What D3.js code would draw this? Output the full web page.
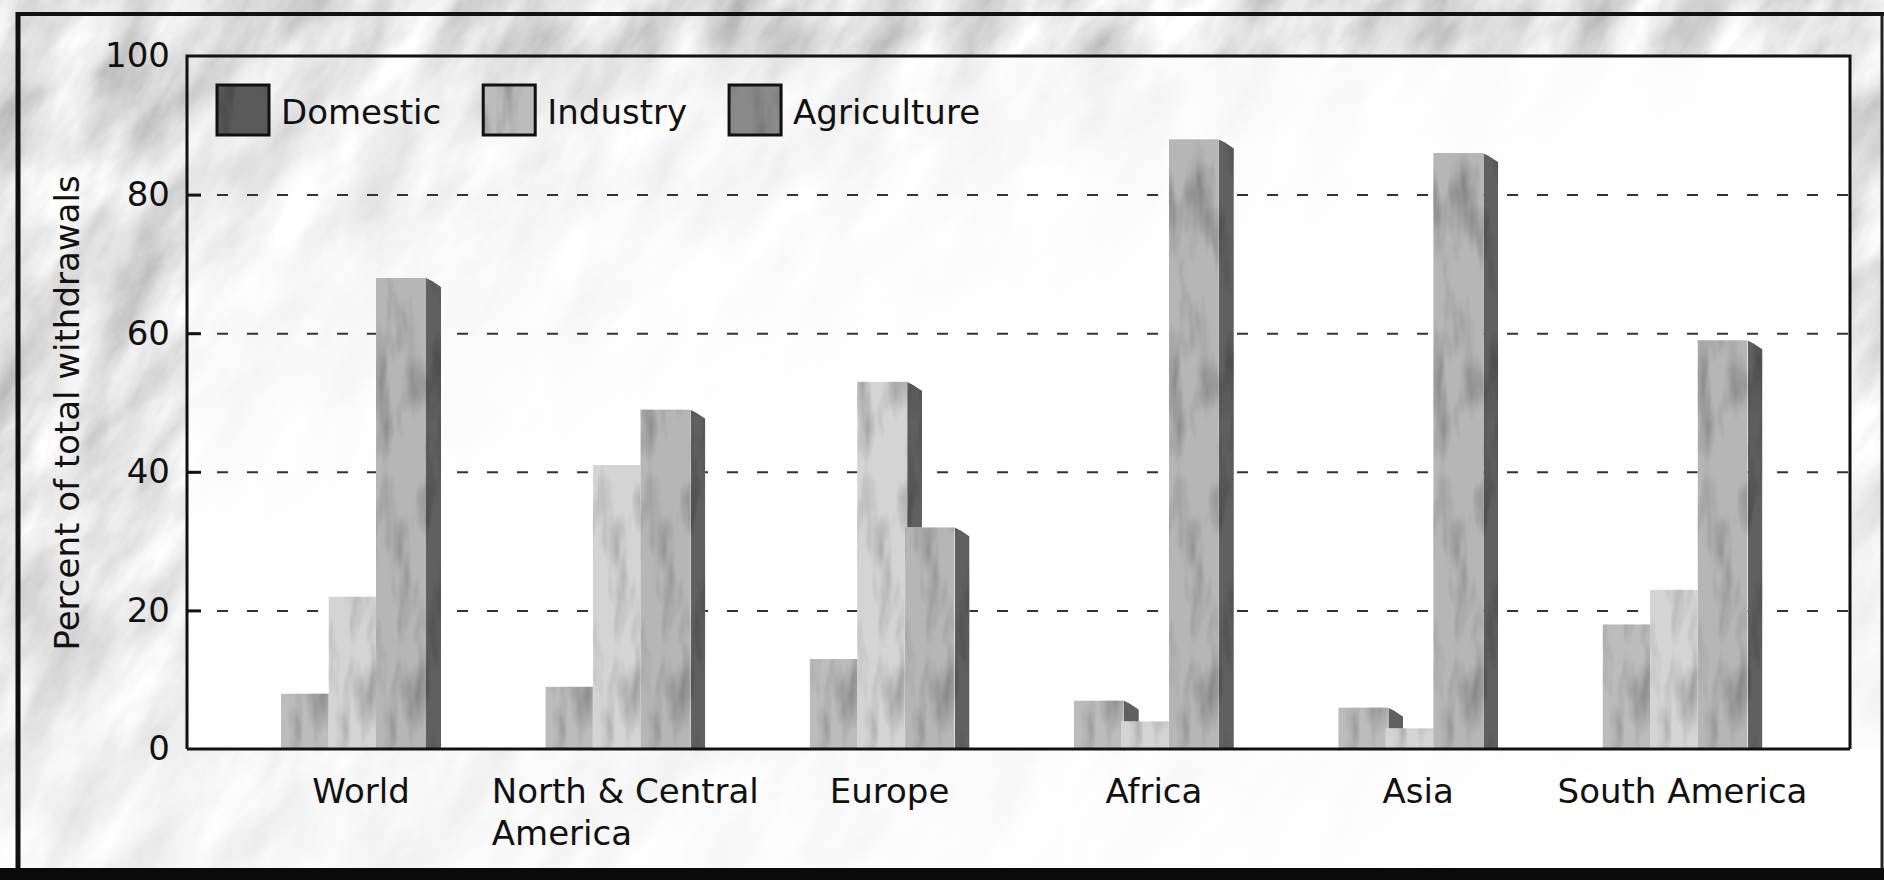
<!DOCTYPE html>
<html>
<head>
<meta charset="utf-8">
<script src="https://cdn.jsdelivr.net/npm/d3@7"></script>
<style>
  body { margin: 0; background: #fff; }
  svg { display: block; font-family: "DejaVu Sans", sans-serif; }
</style>
</head>
<body>
<div id="chart"></div>
<script>
// data
var regions = ["World", "North & Central America", "Europe", "Africa", "Asia", "South America"];
var regionLines = [["World"], ["North & Central", "America"], ["Europe"], ["Africa"], ["Asia"], ["South America"]];
var series = ["Domestic", "Industry", "Agriculture"];
var domestic = [8, 9, 13, 7, 6, 18];
var industry = [22, 41, 53, 4, 3, 23];
var agriculture = [68, 49, 32, 88, 86, 59];
var yTicks = [0, 20, 40, 60, 80, 100];
var gridTicks = [20, 40, 60, 80];

function drawChart(){
  var values = { Domestic: domestic, Industry: industry, Agriculture: agriculture };
  var faceColor = { Domestic: "#bcbcbc", Industry: "#d4d4d4", Agriculture: "#b6b6b6" };
  var keyColor = { Domestic: "#5a5a5a", Industry: "#bcbcbc", Agriculture: "#8a8a8a" };

  var w = 1884, h = 880,
    pLeft = 187, pTop = 56, pRight = 1850, pBottom = 749,
    faceW = 50, sideW = 15;

  var svg = d3.select("#chart").append("svg")
    .attr("width", w)
    .attr("height", h);

  var defs = svg.append("defs");

  // paper texture
  var paper = defs.append("filter").attr("id", "paper")
    .attr("filterUnits", "userSpaceOnUse")
    .attr("x", -500).attr("y", -800).attr("width", 2900).attr("height", 2500);
  paper.append("feTurbulence")
    .attr("type", "fractalNoise")
    .attr("baseFrequency", "0.008 0.02")
    .attr("numOctaves", 5)
    .attr("seed", 7);
  paper.append("feColorMatrix")
    .attr("type", "matrix")
    .attr("values", "0.85 0 0 0 0.34  0.85 0 0 0 0.34  0.85 0 0 0 0.34  0 0 0 0 1");

  // bar texture
  var bt = defs.append("filter").attr("id", "barTex");
  bt.append("feTurbulence")
    .attr("type", "fractalNoise")
    .attr("baseFrequency", "0.05 0.012")
    .attr("numOctaves", 3)
    .attr("seed", 2)
    .attr("result", "n");
  bt.append("feColorMatrix")
    .attr("in", "n")
    .attr("type", "matrix")
    .attr("values", "1.2 0 0 0 0.35  1.2 0 0 0 0.35  1.2 0 0 0 0.35  0 0 0 0 1")
    .attr("result", "g");
  bt.append("feBlend")
    .attr("in", "SourceGraphic").attr("in2", "g")
    .attr("mode", "multiply").attr("result", "b");
  bt.append("feComposite")
    .attr("in", "b").attr("in2", "SourceGraphic")
    .attr("operator", "in");

  // where the paper texture shows
  var bgGrad = defs.append("linearGradient").attr("id", "bgGrad")
    .attr("x1", 0).attr("y1", 0).attr("x2", 0.8).attr("y2", 1);
  [[0, 1], [0.3, 0.9], [0.55, 0.45], [0.8, 0.12], [1, 0]].forEach(function(s){
    bgGrad.append("stop").attr("offset", s[0]).attr("stop-color", "#fff").attr("stop-opacity", s[1]);
  });
  var leftGrad = defs.append("linearGradient").attr("id", "leftGrad")
    .attr("x1", 0).attr("y1", 0).attr("x2", 0).attr("y2", 1);
  [[0, 0.95], [0.6, 0.7], [1, 0.05]].forEach(function(s){
    leftGrad.append("stop").attr("offset", s[0]).attr("stop-color", "#fff").attr("stop-opacity", s[1]);
  });
  var mask = defs.append("mask").attr("id", "bgMask")
    .attr("maskUnits", "userSpaceOnUse")
    .attr("x", 0).attr("y", 0).attr("width", w).attr("height", h);
  mask.append("rect").attr("width", w).attr("height", h).attr("fill", "url(#bgGrad)");
  mask.append("rect").attr("width", w).attr("height", pTop).attr("fill", "#fff").attr("fill-opacity", 0.85);
  mask.append("rect").attr("width", pLeft).attr("height", pBottom).attr("fill", "url(#leftGrad)");
  mask.append("rect").attr("x", pRight).attr("width", w - pRight).attr("height", pBottom)
    .attr("fill", "url(#leftGrad)");

  // white of the plot, letting the texture through at top left
  var plotFade = defs.append("linearGradient").attr("id", "plotFade")
    .attr("x1", 0).attr("y1", 0).attr("x2", 0.5).attr("y2", 0.75);
  [[0, 0.1], [0.35, 0.7], [0.7, 1]].forEach(function(s){
    plotFade.append("stop").attr("offset", s[0]).attr("stop-color", "#fff").attr("stop-opacity", s[1]);
  });

  svg.append("rect").attr("width", w).attr("height", h).attr("fill", "#fff");

  svg.append("g")
    .attr("mask", "url(#bgMask)")
  .append("g")
    .attr("transform", "rotate(-58," + w/2 + "," + h/2 + ")")
  .append("rect")
    .attr("x", -500).attr("y", -800)
    .attr("width", 2900).attr("height", 2500)
    .attr("filter", "url(#paper)");

  svg.append("rect")
    .attr("x", pLeft).attr("y", pTop)
    .attr("width", pRight - pLeft).attr("height", pBottom - pTop)
    .attr("fill", "url(#plotFade)");

  // scales
  var y = d3.scaleLinear().domain([0, 100]).range([pBottom, pTop]);
  var x0 = d3.scaleBand().domain(regions).range([281, 281 + 6 * 264.3]);
  var x1 = d3.scalePoint().domain(series).range([0, 95]);

  // dashed grid
  svg.append("g")
    .attr("transform", "translate(" + pLeft + ",0)")
    .call(d3.axisLeft(y).tickValues(gridTicks).tickSize(-(pRight - pLeft)).tickFormat(""))
    .call(function(g){ g.select(".domain").remove(); })
    .selectAll("line")
      .attr("stroke", "#333")
      .attr("stroke-width", 2)
      .attr("stroke-dasharray", "11,19");

  svg.append("g")
    .attr("transform", "translate(" + pLeft + ",0)")
    .call(d3.axisLeft(y).tickValues(gridTicks).tickSize(-14).tickFormat(""))
    .call(function(g){ g.select(".domain").remove(); })
    .selectAll("line")
      .attr("stroke", "#111")
      .attr("stroke-width", 3);

  // bars
  var groups = svg.selectAll(".region")
    .data(regions)
    .enter().append("g")
      .attr("class", "region")
      .attr("transform", function(d){ return "translate(" + x0(d) + ",0)"; });

  series.forEach(function(s){
    var bar = groups.append("g")
      .attr("transform", "translate(" + x1(s) + ",0)");

    bar.append("path")
      .attr("d", function(d, i){
        var yt = y(values[s][i]);
        return "M" + faceW + "," + yt +
          "L" + (faceW + 6) + "," + (yt + 3) +
          "L" + (faceW + sideW) + "," + (yt + 9) +
          "L" + (faceW + sideW) + "," + pBottom +
          "L" + faceW + "," + pBottom + "Z";
      })
      .attr("fill", "#606060")
      .attr("filter", "url(#barTex)");

    bar.append("rect")
      .attr("x", 0)
      .attr("y", function(d, i){ return y(values[s][i]); })
      .attr("width", faceW)
      .attr("height", function(d, i){ return pBottom - y(values[s][i]); })
      .attr("fill", faceColor[s])
      .attr("filter", "url(#barTex)");
  });

  // plot frame
  svg.append("path")
    .attr("d", "M" + pLeft + "," + pBottom + "V" + pTop + "H" + pRight + "V" + pBottom)
    .attr("fill", "none")
    .attr("stroke", "#111")
    .attr("stroke-width", 3);
  svg.append("line")
    .attr("x1", pLeft).attr("x2", pRight)
    .attr("y1", pBottom).attr("y2", pBottom)
    .attr("stroke", "#111")
    .attr("stroke-width", 3);

  // y tick labels
  svg.append("g")
    .attr("transform", "translate(" + pLeft + ",0)")
    .call(d3.axisLeft(y).tickValues(yTicks).tickSize(0).tickPadding(17))
    .call(function(g){ g.select(".domain").remove(); })
    .selectAll("text")
      .attr("font-family", "DejaVu Sans, sans-serif")
      .attr("font-size", 34)
      .attr("fill", "#111");

  svg.append("text")
    .attr("transform", "translate(" + 79 + "," + 413 + ") rotate(-90)")
    .attr("text-anchor", "middle")
    .attr("font-size", 34)
    .attr("fill", "#111")
    .text("Percent of total withdrawals");

  // region labels, second line flush left with the first
  regions.forEach(function(r, i){
    var cx = x0(r) + (95 + faceW + sideW) / 2;
    var t = svg.append("text")
      .attr("font-size", 34)
      .attr("fill", "#111");
    var first = t.append("tspan").attr("y", 803).text(regionLines[i][0]);
    var len = first.node().getComputedTextLength();
    var sx = cx - len / 2;
    first.attr("x", sx);
    regionLines[i].slice(1).forEach(function(line, k){
      t.append("tspan").attr("x", sx).attr("y", 803 + 42 * (k + 1)).text(line);
    });
  });

  // legend
  var lx = 217;
  series.forEach(function(s){
    svg.append("rect")
      .attr("x", lx).attr("y", 85)
      .attr("width", 52).attr("height", 50)
      .attr("fill", keyColor[s])
      .attr("filter", "url(#barTex)");
    svg.append("rect")
      .attr("x", lx).attr("y", 85)
      .attr("width", 52).attr("height", 50)
      .attr("fill", "none")
      .attr("stroke", "#111")
      .attr("stroke-width", 3);
    var t = svg.append("text")
      .attr("x", lx + 64).attr("y", 124)
      .attr("font-size", 34)
      .attr("fill", "#111")
      .text(s);
    lx += 64 + t.node().getComputedTextLength() + 42;
  });

  // page frame
  svg.append("line").attr("x1", 16).attr("x2", w).attr("y1", 14).attr("y2", 14)
    .attr("stroke", "#111").attr("stroke-width", 4);
  svg.append("line").attr("x1", 18).attr("x2", 18).attr("y1", 12).attr("y2", 868)
    .attr("stroke", "#111").attr("stroke-width", 5);
  svg.append("line").attr("x1", 1882).attr("x2", 1882).attr("y1", 14).attr("y2", 868)
    .attr("stroke", "#222").attr("stroke-width", 3);
  svg.append("rect").attr("x", 0).attr("y", 868).attr("width", w).attr("height", h - 868)
    .attr("fill", "#0a0a0a");
}

drawChart();
</script>
</body>
</html>
